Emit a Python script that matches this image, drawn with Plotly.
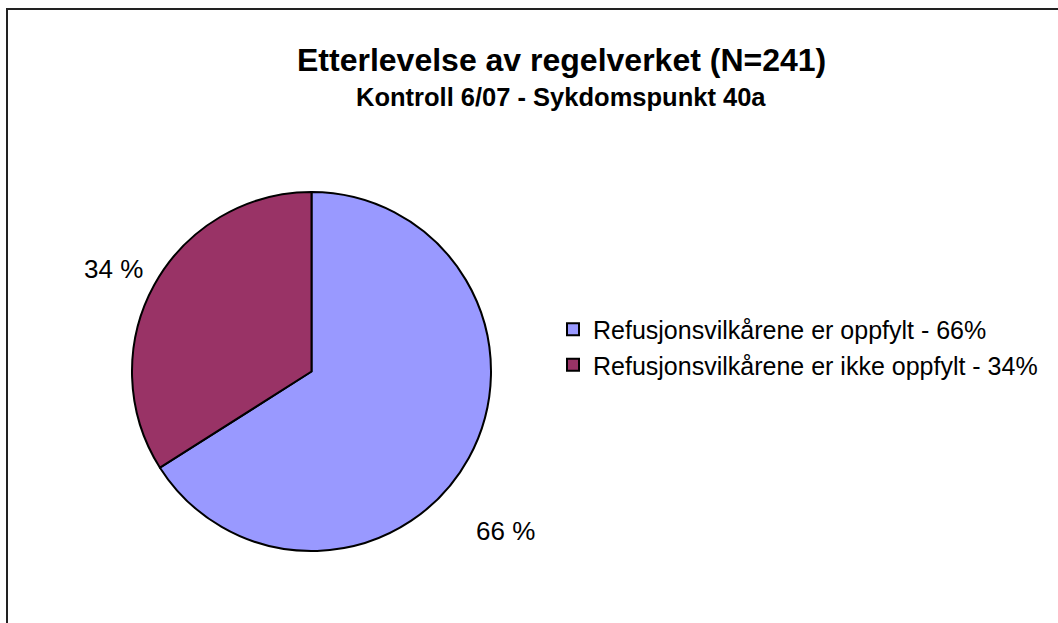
import math
import plotly.graph_objects as go

# ---- data ----
categories = ["Refusjonsvilkårene er oppfylt - 66%", "Refusjonsvilkårene er ikke oppfylt - 34%"]
values = [66, 34]
label_texts = ["66 %", "34 %"]
title_text = "Etterlevelse av regelverket (N=241)"
subtitle_text = "Kontroll 6/07 - Sykdomspunkt 40a"

# ---- style ----
W, H = 1058, 623
colors = ["#9999FF", "#993366"]
cx, cy, r = 311.5, 371.5, 179.5          # pie centre / radius in px
label_radius = [1.40, 1.24]
label_angle_shift = [10.5, -1.5]
FONT = "Liberation Sans, Arial, sans-serif"

fig = go.Figure()
fig.add_trace(go.Pie(
    labels=categories, values=values, sort=False, direction="clockwise", rotation=0,
    marker=dict(colors=colors, line=dict(color="black", width=2)),
    textinfo="none", hoverinfo="label+percent",
    domain=dict(x=[(cx - r) / W, (cx + r) / W], y=[(H - cy - r) / H, (H - cy + r) / H]),
))

# data labels placed at slice mid-angles
total = sum(values)
acc = 0
annotations = []
for i, v in enumerate(values):
    mid = (acc + v / 2) / total * 360 + label_angle_shift[i]
    acc += v
    a = math.radians(mid)
    px = cx + math.sin(a) * r * label_radius[i]
    py = cy - math.cos(a) * r * label_radius[i]
    annotations.append(dict(x=px / W, y=1 - py / H, xref="paper", yref="paper",
                            text=label_texts[i], showarrow=False,
                            font=dict(family=FONT, size=26, color="black"),
                            xanchor="center", yanchor="middle"))

annotations.append(dict(x=561 / W, y=1 - 60 / H, xref="paper", yref="paper", text="<b>" + title_text + "</b>",
                        showarrow=False, font=dict(family=FONT, size=32, color="black"),
                        xanchor="center", yanchor="middle"))
annotations.append(dict(x=561 / W, y=1 - 97 / H, xref="paper", yref="paper", text="<b>" + subtitle_text + "</b>",
                        showarrow=False, font=dict(family=FONT, size=25.5, color="black"),
                        xanchor="center", yanchor="middle"))

fig.update_layout(
    width=W, height=H,
    margin=dict(l=0, r=0, t=0, b=0),
    paper_bgcolor="white", plot_bgcolor="white",
    showlegend=True,
    legend=dict(x=553 / W, y=1 - 347 / H, xanchor="left", yanchor="middle",
                font=dict(family=FONT, size=25, color="black"),
                bgcolor="rgba(0,0,0,0)", itemclick=False),
    annotations=annotations,
    shapes=[dict(type="rect", xref="paper", yref="paper",
                 x0=7 / W, x1=1.2, y0=-0.2, y1=1 - 9 / H,
                 line=dict(color="#222222", width=2), fillcolor="rgba(0,0,0,0)")],
)

fig.write_html("out.html", config={"displayModeBar": False},
               post_script="document.body.style.margin='0';document.body.style.overflow='hidden';")
